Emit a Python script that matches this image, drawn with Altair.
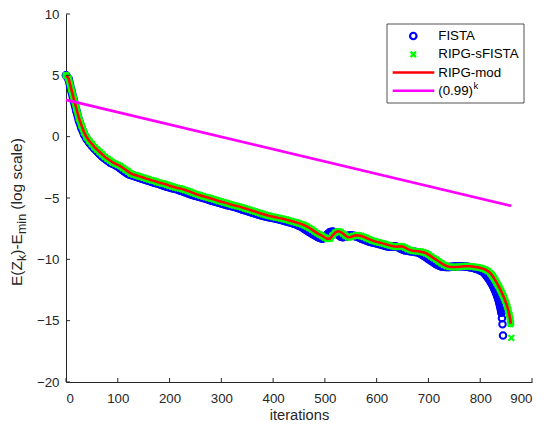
import altair as alt
import pandas as pd

# ---------------- data ----------------
# RIPG-sFISTA (green x) — the RIPG-mod red line follows it (all but the final point)
ripg_iters = list(range(0, 821, 5)) + list(range(822, 859, 2)) + [859, 860]
ripg_vals = [
    5.00, 4.75, 3.90, 3.10, 2.30, 1.50, 0.90, 0.35, -0.05, -0.35,
    -0.60, -0.85, -1.05, -1.25, -1.45, -1.65, -1.80, -1.95, -2.10, -2.20,
    -2.30, -2.40, -2.55, -2.70, -2.85, -3.00, -3.08, -3.15, -3.22, -3.28,
    -3.35, -3.42, -3.48, -3.55, -3.60, -3.68, -3.75, -3.80, -3.85, -3.92,
    -4.00, -4.06, -4.12, -4.18, -4.22, -4.28, -4.35, -4.42, -4.50, -4.58,
    -4.66, -4.74, -4.80, -4.86, -4.92, -4.98, -5.04, -5.10, -5.17, -5.24,
    -5.30, -5.36, -5.42, -5.48, -5.55, -5.60, -5.65, -5.70, -5.76, -5.84,
    -5.90, -5.97, -6.04, -6.10, -6.17, -6.24, -6.30, -6.37, -6.43, -6.48,
    -6.53, -6.57, -6.62, -6.66, -6.71, -6.76, -6.82, -6.88, -6.94, -7.00,
    -7.06, -7.13, -7.22, -7.32, -7.45, -7.58, -7.72, -7.86, -7.98, -8.10,
    -8.22, -8.33, -8.30, -8.05, -7.82, -7.72, -7.76, -7.90, -8.08, -8.20,
    -8.18, -8.10, -8.04, -8.05, -8.10, -8.17, -8.26, -8.35, -8.44, -8.52,
    -8.58, -8.63, -8.68, -8.74, -8.80, -8.86, -8.92, -8.96, -8.98, -8.94,
    -8.95, -9.05, -9.16, -9.25, -9.30, -9.33, -9.35, -9.38, -9.42, -9.50,
    -9.62, -9.76, -9.90, -10.03, -10.18, -10.32, -10.45, -10.54, -10.60, -10.62,
    -10.63, -10.62, -10.60, -10.58, -10.56, -10.56, -10.57, -10.59, -10.62, -10.65,
    -10.70, -10.76, -10.84, -10.96, -11.15,
    -11.25, -11.37, -11.50, -11.64, -11.78, -11.93, -12.08, -12.24, -12.40, -12.57,
    -12.75, -12.94, -13.14, -13.35, -13.58, -13.84, -14.14, -14.50, -14.92,
    -15.25, -16.40,
]

# FISTA (blue circles)
fista_iters = list(range(0, 806, 5)) + list(range(807, 842, 2)) + [842, 843, 844]
fista_vals = [
    5.00, 4.70, 3.80, 2.96, 2.11, 1.32, 0.70, 0.18, -0.19, -0.49,
    -0.75, -0.98, -1.19, -1.41, -1.62, -1.79, -1.94, -2.10, -2.21, -2.31,
    -2.43, -2.59, -2.75, -2.91, -3.04, -3.12, -3.19, -3.26, -3.33, -3.40,
    -3.47, -3.54, -3.60, -3.68, -3.75, -3.80, -3.86, -3.94, -4.02, -4.08,
    -4.14, -4.20, -4.24, -4.31, -4.38, -4.45, -4.53, -4.61, -4.69, -4.76,
    -4.82, -4.88, -4.94, -5.00, -5.06, -5.13, -5.20, -5.26, -5.32, -5.38,
    -5.44, -5.51, -5.57, -5.62, -5.67, -5.72, -5.79, -5.86, -5.93, -6.00,
    -6.06, -6.13, -6.20, -6.26, -6.33, -6.39, -6.45, -6.50, -6.55, -6.59,
    -6.64, -6.68, -6.73, -6.78, -6.84, -6.90, -6.96, -7.02, -7.09, -7.17,
    -7.26, -7.37, -7.50, -7.64, -7.78, -7.91, -8.03, -8.15, -8.26, -8.32,
    -8.20, -7.96, -7.78, -7.74, -7.82, -7.97, -8.13, -8.19, -8.15, -8.08,
    -8.04, -8.07, -8.13, -8.21, -8.30, -8.39, -8.47, -8.54, -8.60, -8.65,
    -8.70, -8.76, -8.82, -8.88, -8.94, -8.97, -8.96, -8.94, -8.99, -9.09,
    -9.20, -9.27, -9.31, -9.34, -9.36, -9.40, -9.45, -9.55, -9.68, -9.82,
    -9.98, -10.12, -10.26, -10.40, -10.50, -10.58, -10.61, -10.63, -10.62, -10.61,
    -10.59, -10.57, -10.56, -10.57, -10.58, -10.61, -10.64, -10.68, -10.74, -10.81,
    -10.91, -11.00,
    -11.08, -11.17, -11.27, -11.38, -11.50, -11.62, -11.75, -11.89, -12.04, -12.20,
    -12.37, -12.56, -12.77, -13.00, -13.25, -13.55, -13.90, -14.35,
    -14.80, -15.30, -16.20,
]

# (0.99)^k reference line, end points
ref_iters = [0, 860]
ref_vals = [3.0, -5.64]

x_ticks = [0, 100, 200, 300, 400, 500, 600, 700, 800, 900]
y_ticks = [-20, -15, -10, -5, 0, 5, 10]

legend_labels = ["FISTA", "RIPG-sFISTA", "RIPG-mod", "(0.99)"]
legend_colors = ["#0000ff", "#00ff00", "#ff0000", "#ff00ff"]

# ---------------- chart ----------------
W, H = 466, 368
AX = "#262626"
FONT = "Liberation Sans"
XSHAPE = "M-1,-1L1,1M-1,1L1,-1"

fista_df = pd.DataFrame({"k": fista_iters, "v": fista_vals})
ripg_df = pd.DataFrame({"k": ripg_iters, "v": ripg_vals})
fista_band = fista_df.iloc[:-3]
ripg_band = ripg_df.iloc[:-1]
mod_df = ripg_df.iloc[:-1]
ref_df = pd.DataFrame({"k": ref_iters, "v": ref_vals})
xt_df = pd.DataFrame({"k": x_ticks})
yt_df = pd.DataFrame({"v": y_ticks})
one = pd.DataFrame({"a": [0]})

xs = alt.Scale(domain=[0, 900], nice=False, zero=False)
ys = alt.Scale(domain=[-20, 10], nice=False, zero=False)

X = alt.X("k:Q", scale=xs, axis=alt.Axis(
    values=x_ticks, tickSize=0, grid=False, domainColor=AX, domainWidth=1,
    labelColor=AX, labelFont=FONT, labelFontSize=13.3, labelPadding=9,
    title="iterations", titleFont=FONT, titleFontSize=14.7, titleFontWeight="normal",
    titleColor=AX, titlePadding=3))
Y = alt.Y("v:Q", scale=ys, axis=alt.Axis(
    values=y_ticks, tickSize=0, grid=False, domainColor=AX, domainWidth=1,
    labelColor=AX, labelFont=FONT, labelFontSize=13.3, labelPadding=7, title=None))

# dense marker bands (one marker per iteration in the original) drawn as wide strokes
fista_b = alt.Chart(fista_band).mark_line(
    color=legend_colors[0], strokeWidth=8.5, strokeCap="round", strokeJoin="round"
).encode(x=X, y=Y)
fista = alt.Chart(fista_df).mark_point(
    shape="circle", filled=False, color=legend_colors[0], size=42, strokeWidth=2, opacity=1
).encode(x="k:Q", y="v:Q")
ripg_b = alt.Chart(ripg_band).mark_line(
    color=legend_colors[1], strokeWidth=7, strokeCap="round", strokeJoin="round"
).encode(x="k:Q", y="v:Q")
ripg = alt.Chart(ripg_df).mark_point(
    shape=XSHAPE, filled=False, color=legend_colors[1], size=34, strokeWidth=2.2, opacity=1
).encode(x="k:Q", y="v:Q")
mod = alt.Chart(mod_df).mark_line(color=legend_colors[2], strokeWidth=2.5).encode(x="k:Q", y="v:Q")
ref = alt.Chart(ref_df).mark_line(color=legend_colors[3], strokeWidth=2.6).encode(x="k:Q", y="v:Q")

xt = alt.Chart(xt_df).mark_rule(color=AX, strokeWidth=1).encode(
    x="k:Q", y=alt.value(H), y2=alt.value(H - 4))
yt = alt.Chart(yt_df).mark_rule(color=AX, strokeWidth=1).encode(
    y="v:Q", x=alt.value(0), x2=alt.value(4))

layers = [fista_b, fista, ripg_b, ripg, mod, ref, xt, yt]

# y-axis title with real subscripts
title_parts = [("E(Z", 15.5, 0, 272.0), ("k", 12.5, 4, 247.0), (")-E", 15.5, 0, 240.75),
               ("min", 12.5, 4, 220.05), ("(log scale)", 15.5, 0, 195.65)]
for txt, fs, dx, yy in title_parts:
    layers.append(alt.Chart(one).mark_text(
        text=txt, angle=270, align="left", baseline="alphabetic",
        font=FONT, fontSize=fs, color=AX).encode(x=alt.value(-44 + dx), y=alt.value(yy)))

# legend
layers.append(alt.Chart(one).mark_rect(fill="white", stroke=AX, strokeWidth=0.8).encode(
    x=alt.value(321), x2=alt.value(458), y=alt.value(10), y2=alt.value(89)))
rows = [22.0, 40.3, 58.5, 76.7]
layers.append(alt.Chart(one).mark_point(shape="circle", filled=False, color=legend_colors[0],
                                        size=42, strokeWidth=2.2, opacity=1).encode(
    x=alt.value(347.3), y=alt.value(rows[0])))
layers.append(alt.Chart(one).mark_point(shape=XSHAPE, filled=False, color=legend_colors[1],
                                        size=30, strokeWidth=2.4, opacity=1).encode(
    x=alt.value(347.3), y=alt.value(rows[1])))
for i in (2, 3):
    layers.append(alt.Chart(one).mark_rule(color=legend_colors[i], strokeWidth=2.6).encode(
        x=alt.value(326.7), x2=alt.value(368.3), y=alt.value(rows[i])))
for lab, yy in zip(legend_labels, rows):
    layers.append(alt.Chart(one).mark_text(
        text=lab, align="left", baseline="middle", font=FONT, fontSize=13.3, color="#000000"
    ).encode(x=alt.value(372.3), y=alt.value(yy)))
layers.append(alt.Chart(one).mark_text(
    text="k", align="left", baseline="middle", font=FONT, fontSize=9.5, color="#000000"
).encode(x=alt.value(407.5), y=alt.value(rows[3] - 5)))

chart = alt.layer(*layers).properties(
    width=W, height=H, autosize="none",
    padding={"left": 66, "top": 14, "right": 14, "bottom": 43},
    background="white",
).configure_view(stroke=None)

chart.save("out.html", embed_options={"renderer": "svg", "actions": False})
